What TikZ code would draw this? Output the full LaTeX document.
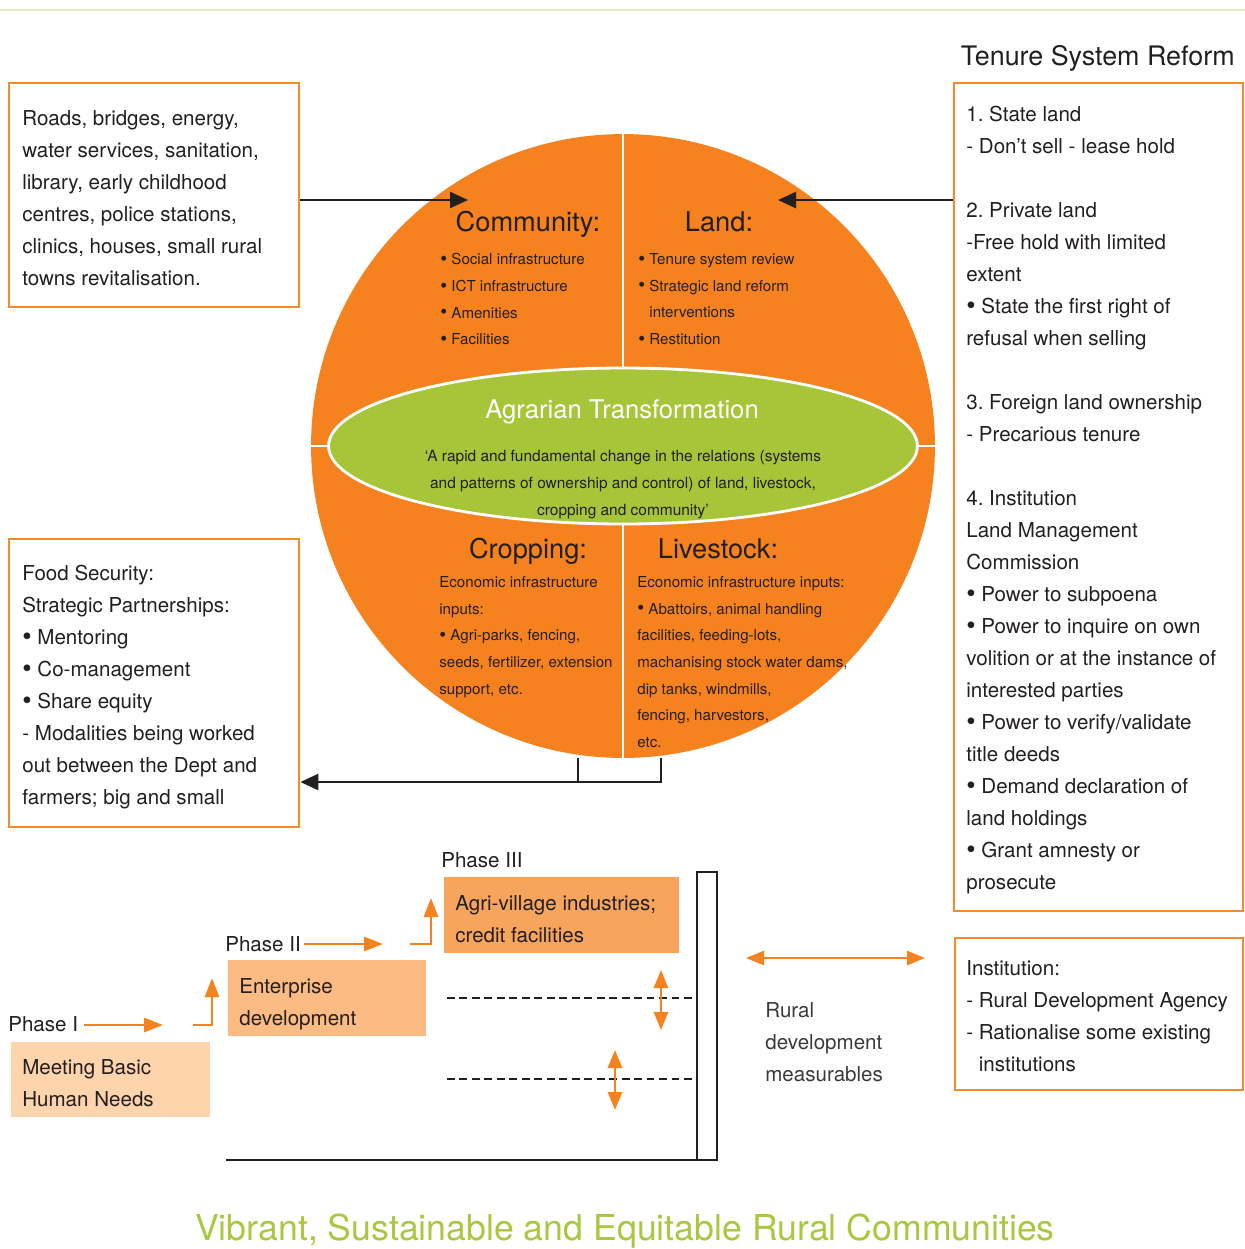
\documentclass[tikz,border=0pt]{standalone}
\usepackage{fontspec}
\setmainfont{TeX Gyre Heros}
\usetikzlibrary{arrows.meta,shapes.geometric,positioning}
\frenchspacing

\definecolor{discorange}{HTML}{F5821F}
\definecolor{frameorange}{HTML}{F58A2B}
\definecolor{coregreen}{HTML}{A7C539}
\definecolor{ink}{HTML}{231F20}
\definecolor{softink}{HTML}{3A3A3A}
\definecolor{phaseA}{HTML}{FDD4AB}
\definecolor{phaseB}{HTML}{FBBB82}
\definecolor{phaseC}{HTML}{F7A55C}
\definecolor{rulegreen}{HTML}{E3E9C3}
\definecolor{titlegreen}{HTML}{A9C73F}

\newcommand{\blt}{\raisebox{-0.05em}{\scalebox{1.3}{•}}}

\tikzset{
  framebox/.style={draw=frameorange, line width=1.4pt, inner sep=0pt, anchor=north west},
  phasebox/.style={inner sep=0pt, anchor=north west},
  boxtext/.style={inner sep=0pt, align=left, anchor=north west, text=ink, font=\fontsize{11.7}{18.2}\selectfont},
  disctext/.style={inner sep=0pt, align=left, anchor=north west, text=ink, font=\fontsize{8.6}{15.2}\selectfont},
  dischead/.style={inner sep=0pt, anchor=base, text=ink, font=\fontsize{15.5}{18}\selectfont},
  link/.style={line width=1.4pt, draw=ink, -{Triangle[length=0.36cm,width=0.32cm]}},
  phasearrow/.style={line width=1.6pt, draw=discorange, -{Triangle[length=0.38cm,width=0.28cm]}},
  twoway/.style={line width=1.6pt, draw=discorange, {Triangle[length=0.36cm,width=0.28cm]}-{Triangle[length=0.36cm,width=0.28cm]}},
  level/.style={line width=1.2pt, draw=ink, dash pattern=on 4.5pt off 2.6pt}
}

\begin{document}
\begin{tikzpicture}[x=0.02cm,y=-0.02cm]
  \useasboundingbox (0,0) rectangle (1245,1249);
  \draw[rulegreen, line width=1.6pt] (0,10) -- (1245,10);

  % the disc and its four quarters
  \node[circle, fill=discorange, minimum size=12.48cm, inner sep=0pt] (disc) at (623,446) {};
  \draw[white, line width=1.6pt] (disc.north) -- (disc.south);
  \draw[white, line width=1.6pt] (disc.west) -- (disc.east);
  \node[ellipse, draw=white, line width=1.6pt, fill=coregreen, minimum width=11.78cm, minimum height=3.12cm] (core) at (623,446) {};
  \node[inner sep=0pt, anchor=base, text=white, font=\fontsize{14.6}{18}\selectfont] (coretitle) at (622,418) {Agrarian Transformation};
  \node[inner sep=0pt, align=center, anchor=north, text=ink, font=\fontsize{8.8}{15.4}\selectfont] (corequote) at (623,450)
    {‘A rapid and fundamental change in the relations (systems\\
     and patterns of ownership and control) of land, livestock,\\
     cropping and community’};

  \node[dischead] (commhead) at (528,231) {Community:};
  \node[disctext] (commlist) at (440,253)
    {\blt\ Social infrastructure\\ \blt\ ICT infrastructure\\ \blt\ Amenities\\ \blt\ Facilities};
  \node[dischead] (landhead) at (719,231) {Land:};
  \node[disctext] (landlist) at (638,253)
    {\blt\ Tenure system review\\ \blt\ Strategic land reform\\ \phantom{\blt\ }interventions\\ \blt\ Restitution};
  \node[dischead] (crophead) at (528,558) {Cropping:};
  \node[disctext] (croplist) at (439,576)
    {Economic infrastructure\\ inputs:\\ \blt\ Agri-parks, fencing,\\ seeds, fertilizer, extension\\ support, etc.};
  \node[dischead] (livehead) at (718,558) {Livestock:};
  \node[disctext] (livelist) at (637,576)
    {Economic infrastructure inputs:\\ \blt\ Abattoirs, animal handling\\ facilities, feeding-lots,\\ machanising stock water dams,\\ dip tanks, windmills,\\ fencing, harvestors,\\ etc.};

  % side boxes
  \node[framebox, minimum width=5.8cm, minimum height=4.48cm] (infra) at (8,82) {};
  \node[boxtext] (infratext) at (22,110)
    {Roads, bridges, energy,\\ water services, sanitation,\\ library, early childhood\\ centres, police stations,\\ clinics, houses, small rural\\ towns revitalisation.};

  \node[inner sep=0pt, anchor=base east, text=ink, font=\fontsize{15.3}{18}\selectfont] (tenuretitle) at (1235,65) {Tenure System Reform};
  \node[framebox, minimum width=5.78cm, minimum height=16.56cm] (tenure) at (953,82) {};
  \node[boxtext] (tenuretext) at (966,106)
    {1. State land\\
     - Don’t sell - lease hold\\[18.2pt]
     2. Private land\\
     -Free hold with limited\\
     extent\\
     \blt\ State the first right of\\
     refusal when selling\\[18.2pt]
     3. Foreign land ownership\\
     - Precarious tenure\\[18.2pt]
     4. Institution\\
     Land Management\\
     Commission\\
     \blt\ Power to subpoena\\
     \blt\ Power to inquire on own\\
     volition or at the instance of\\
     interested parties\\
     \blt\ Power to verify/validate\\
     title deeds\\
     \blt\ Demand declaration of\\
     land holdings\\
     \blt\ Grant amnesty or\\
     prosecute};

  \node[framebox, minimum width=5.8cm, minimum height=5.76cm] (food) at (8,538) {};
  \node[boxtext] (foodtext) at (22,565)
    {Food Security:\\ Strategic Partnerships:\\ \blt\ Mentoring\\ \blt\ Co-management\\ \blt\ Share equity\\ - Modalities being worked\\ out between the Dept and\\ farmers; big and small};

  \node[framebox, minimum width=5.76cm, minimum height=3.04cm] (inst) at (954,937) {};
  \node[boxtext] (insttext) at (966,960)
    {Institution:\\ - Rural Development Agency\\ - Rationalise some existing\\ \phantom{- }institutions};

  % arrows into and out of the disc
  \coordinate (commtip) at (468,200);
  \coordinate (landtip) at (778,200);
  \draw[link] (commtip -| infra.east) -- (commtip);
  \draw[link] (landtip -| tenure.west) -- (landtip);
  \coordinate (cropfoot) at (578,758);
  \coordinate (livefoot) at (661,758);
  \coordinate (bend) at (661,782);
  \draw[line width=1.4pt, ink] (cropfoot) -- (cropfoot |- bend);
  \draw[link] (livefoot) -- (bend) -- (bend -| food.east);

  % phases
  \node[phasebox, fill=phaseA, minimum width=3.98cm, minimum height=1.5cm] (needs) at (11,1042) {};
  \node[boxtext] (needstext) at (22,1059) {Meeting Basic\\ Human Needs};
  \node[phasebox, fill=phaseB, minimum width=3.96cm, minimum height=1.52cm] (enterprise) at (228,960) {};
  \node[boxtext] (enterprisetext) at (239,978) {Enterprise\\ development};
  \node[phasebox, fill=phaseC, minimum width=4.7cm, minimum height=1.52cm] (village) at (444,877) {};
  \node[boxtext] (villagetext) at (455,895) {Agri-village industries;\\ credit facilities};

  \node[inner sep=0pt, anchor=base west, text=ink, font=\fontsize{11.7}{14}\selectfont] (phaseone) at (8,1031) {Phase I};
  \node[inner sep=0pt, anchor=base west, text=ink, font=\fontsize{11.7}{14}\selectfont] (phasetwo) at (225,951) {Phase II};
  \node[inner sep=0pt, anchor=base west, text=ink, font=\fontsize{11.7}{14}\selectfont] (phasethree) at (441,867) {Phase III};

  \draw[phasearrow] (84,1025) -- (163,1025);
  \draw[phasearrow] (193,1025) -| (212,978);
  \draw[phasearrow] (304,944) -- (383,944);
  \draw[phasearrow] (410,944) -| (431,898);

  % measuring post
  \node[draw=ink, line width=1.4pt, inner sep=0pt, outer sep=0pt, anchor=north west, minimum width=0.4cm, minimum height=5.76cm] (post) at (697,872) {};
  \coordinate (floor) at (226,1160);
  \draw[line width=1.4pt, ink] (floor) -- (floor -| post.west);
  \draw[level] (447,998) -- (post.west |- 0,998);
  \draw[level] (447,1079) -- (post.west |- 0,1079);
  \draw[twoway] (661,970) -- (661,1030);
  \draw[twoway] (615,1050) -- (615,1110);
  \draw[twoway] (746,958) -- (925,958);
  \node[boxtext, text=softink] (measure) at (765,1002) {Rural\\ development\\ measurables};

  \node[inner sep=0pt, anchor=base, text=titlegreen, font=\fontsize{20.3}{24}\selectfont] (motto) at (625,1240)
    {Vibrant, Sustainable and Equitable Rural Communities};
\end{tikzpicture}
\end{document}
